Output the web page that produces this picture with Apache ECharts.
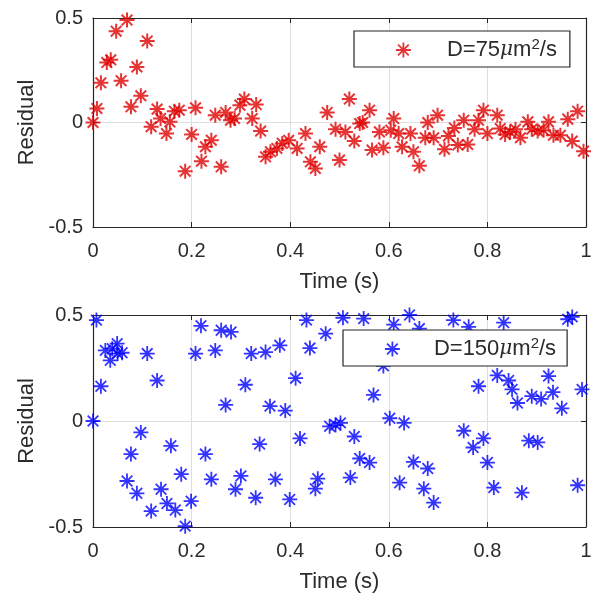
<!DOCTYPE html>
<html>
<head>
<meta charset="utf-8">
<script src="https://cdn.jsdelivr.net/npm/echarts@6/dist/echarts.min.js"></script>
<style>
html, body { margin: 0; padding: 0; background: #fff; }
#graph { width: 597px; height: 596px; }
</style>
</head>
<body>
<div id="graph"></div>
<script>
// residuals, D = 75 um^2/s (red)
var time1 = [0, 0.008, 0.016, 0.028, 0.036, 0.047, 0.057, 0.069, 0.077, 0.089, 0.097, 0.11, 0.118, 0.13, 0.137, 0.149, 0.156, 0.165, 0.175, 0.187,
  0.2, 0.208, 0.22, 0.228, 0.24, 0.248, 0.26, 0.269, 0.279, 0.287, 0.298, 0.307, 0.323, 0.331, 0.34, 0.35, 0.36, 0.373, 0.384, 0.397,
  0.414, 0.431, 0.441, 0.451, 0.46, 0.475, 0.492, 0.5, 0.512, 0.52, 0.53, 0.541, 0.547, 0.561, 0.566, 0.581, 0.589, 0.604, 0.61, 0.62,
  0.627, 0.644, 0.65, 0.662, 0.674, 0.679, 0.691, 0.699, 0.713, 0.721, 0.733, 0.74, 0.752, 0.76, 0.774, 0.782, 0.792, 0.8, 0.82, 0.826,
  0.836, 0.846, 0.857, 0.867, 0.882, 0.89, 0.902, 0.914, 0.924, 0.934, 0.948, 0.963, 0.972, 0.983, 0.995];
var resid1 = [0, 0.067, 0.19, 0.287, 0.3, 0.437, 0.2, 0.49, 0.075, 0.266, 0.128, 0.39, -0.02, 0.064, 0.019, -0.053, 0.003, 0.054, 0.059, -0.233,
  -0.057, 0.07, -0.185, -0.116, -0.085, 0.035, -0.212, 0.048, 0.011, 0.019, 0.083, 0.112, 0.019, 0.086, -0.041, -0.164, -0.14, -0.124, -0.1, -0.085,
  -0.124, -0.053, -0.188, -0.22, -0.116, 0.048, -0.032, -0.18, -0.045, 0.112, -0.089, -0.005, 0, 0.059, -0.132, -0.045, -0.121, -0.037, 0.019, -0.053,
  -0.116, -0.053, -0.14, -0.207, -0.073, 0, -0.073, 0.035, -0.128, -0.064, -0.026, -0.108, 0.011, -0.105, -0.032, 0.011, 0.059, -0.053, 0.035, -0.029,
  -0.057, -0.045, -0.032, -0.073, 0.003, -0.032, -0.041, -0.037, 0.003, -0.061, -0.061, 0.016, -0.089, 0.054, -0.137];

// residuals, D = 150 um^2/s (blue)
var time2 = [0, 0.007, 0.016, 0.025, 0.035, 0.039, 0.049, 0.05, 0.059, 0.069, 0.077, 0.089, 0.097, 0.11, 0.118, 0.13, 0.138, 0.15, 0.158, 0.167,
  0.179, 0.187, 0.199, 0.208, 0.219, 0.228, 0.24, 0.248, 0.26, 0.269, 0.28, 0.289, 0.3, 0.309, 0.321, 0.33, 0.338, 0.35, 0.359, 0.37,
  0.379, 0.39, 0.399, 0.411, 0.42, 0.433, 0.44, 0.451, 0.456, 0.472, 0.48, 0.492, 0.502, 0.507, 0.522, 0.53, 0.541, 0.549, 0.561, 0.569,
  0.589, 0.602, 0.61, 0.622, 0.631, 0.642, 0.65, 0.662, 0.671, 0.679, 0.691, 0.731, 0.752, 0.762, 0.771, 0.782, 0.792, 0.8, 0.813, 0.82,
  0.833, 0.843, 0.85, 0.861, 0.87, 0.884, 0.89, 0.902, 0.909, 0.924, 0.933, 0.951, 0.963, 0.972, 0.983, 0.992];
var resid2 = [0, 0.476, 0.164, 0.333, 0.286, 0.341, 0.365, 0.318, 0.322, -0.283, -0.156, -0.341, -0.054, 0.318, -0.425, 0.191, -0.322, -0.389, -0.117, -0.42,
  -0.251, -0.496, -0.378, 0.318, 0.449, -0.156, -0.275, 0.333, 0.428, 0.076, 0.42, -0.322, -0.259, 0.171, 0.318, -0.362, -0.109, 0.325, 0.07, -0.275,
  0.357, 0.049, -0.37, 0.202, -0.082, 0.476, 0.344, -0.319, -0.272, 0.412, -0.025, -0.019, -0.009, 0.487, -0.267, -0.073, -0.177, 0.483, -0.196, 0.123,
  0.26, 0.013, 0.455, -0.291, -0.009, 0.5, -0.193, 0.436, -0.319, -0.224, -0.385, 0.476, -0.046, 0.444, -0.125, 0.164, -0.082, -0.196, -0.314, 0.215,
  0.464, 0.191, 0.149, 0.085, -0.338, -0.093, 0.117, -0.101, 0.104, 0.212, 0.136, 0.06, 0.48, 0.491, -0.303, 0.149];

var xTicks = [0, 0.2, 0.4, 0.6, 0.8, 1];
var yTicks = [-0.5, 0, 0.5];

var chartDom = document.getElementById('graph');
var myChart = echarts.init(chartDom);
var option;

var FONT = 'Liberation Sans';
var TXT = '#2b2b2b';
var AX = '#262626';
var STAR = 'path://M0,-10L0,10M-10,0L10,0M-7.1,-7.1L7.1,7.1M-7.1,7.1L7.1,-7.1';

function pairs(xs, ys) {
  var out = [];
  for (var i = 0; i < xs.length; i++) out.push([xs[i], ys[i]]);
  return out;
}

// bottom / left axes carry labels + grid, top / right ones only the box and ticks
function xAxes(g) {
  return [{
    type: 'value', gridIndex: g, min: xTicks[0], max: xTicks[xTicks.length - 1], interval: 0.2,
    name: 'Time (s)', nameLocation: 'middle', nameGap: 44,
    nameTextStyle: { fontFamily: FONT, fontSize: 22, color: TXT },
    axisLine: { show: true, onZero: false, lineStyle: { color: AX, width: 1.2 } },
    axisTick: { show: true, inside: true, length: 5, lineStyle: { color: AX } },
    axisLabel: { fontFamily: FONT, fontSize: 20, color: TXT, margin: 14 },
    splitLine: { show: true, lineStyle: { color: '#dedede', width: 1 } }
  }, {
    type: 'value', gridIndex: g, position: 'top', min: 0, max: 1, interval: 0.2,
    axisLine: { show: true, onZero: false, lineStyle: { color: AX, width: 1.2 } },
    axisTick: { show: true, inside: true, length: 5, lineStyle: { color: AX } },
    axisLabel: { show: false }, splitLine: { show: false }
  }];
}
function yAxes(g) {
  return [{
    type: 'value', gridIndex: g, min: yTicks[0], max: yTicks[yTicks.length - 1], interval: 0.5,
    name: 'Residual', nameLocation: 'middle', nameGap: 47,
    nameTextStyle: { fontFamily: FONT, fontSize: 22, color: TXT },
    axisLine: { show: true, onZero: false, lineStyle: { color: AX, width: 1.2 } },
    axisTick: { show: true, inside: true, length: 5, lineStyle: { color: AX } },
    axisLabel: { fontFamily: FONT, fontSize: 20, color: TXT, margin: 10 },
    splitLine: { show: true, lineStyle: { color: '#dedede', width: 1 } }
  }, {
    type: 'value', gridIndex: g, position: 'right', min: -0.5, max: 0.5, interval: 0.5,
    axisLine: { show: true, onZero: false, lineStyle: { color: AX, width: 1.2 } },
    axisTick: { show: true, inside: true, length: 5, lineStyle: { color: AX } },
    axisLabel: { show: false }, splitLine: { show: false }
  }];
}

function legendText(num) {
  return '{t|D=' + num + '}{mu|\u03bc}{t|m}{sup|2}{t|/s}';
}
var legendRich = {
  t: { fontFamily: FONT, fontSize: 22, color: TXT, lineHeight: 26 },
  mu: { fontFamily: 'DejaVu Serif', fontStyle: 'italic', fontSize: 20, color: TXT, lineHeight: 26 },
  sup: { fontFamily: FONT, fontSize: 15, color: TXT, lineHeight: 14, verticalAlign: 'top' }
};

option = {
  animation: false,
  grid: [
    { left: 93, top: 18, width: 493, height: 209 },
    { left: 93, top: 315, width: 493, height: 212 }
  ],
  xAxis: xAxes(0).concat(xAxes(1)),
  yAxis: yAxes(0).concat(yAxes(1)),
  legend: [{
    data: ['D75'], left: 354, top: 31,
    backgroundColor: '#fff', borderColor: AX, borderWidth: 1.2,
    padding: [6, 13, 6, 41], itemWidth: 15, itemHeight: 15,
    itemStyle: { borderWidth: 1.8 },
    formatter: function () { return legendText(75); },
    textStyle: { rich: legendRich, padding: [0, 0, 0, 31] }
  }, {
    data: ['D150'], left: 343, top: 330,
    backgroundColor: '#fff', borderColor: AX, borderWidth: 1.2,
    padding: [6, 11, 6, 41], itemWidth: 15, itemHeight: 15,
    itemStyle: { borderWidth: 1.8 },
    formatter: function () { return legendText(150); },
    textStyle: { rich: legendRich, padding: [0, 0, 0, 29] }
  }],
  series: [{
    name: 'D75', type: 'scatter', xAxisIndex: 0, yAxisIndex: 0,
    symbol: STAR, symbolSize: 15,
    itemStyle: { color: '#e00000', borderColor: '#e00000', borderWidth: 2 },
    data: pairs(time1, resid1)
  }, {
    name: 'D150', type: 'scatter', xAxisIndex: 2, yAxisIndex: 2,
    symbol: STAR, symbolSize: 15,
    itemStyle: { color: '#0000ff', borderColor: '#0000ff', borderWidth: 1.8 },
    data: pairs(time2, resid2)
  }]
};

option && myChart.setOption(option);
</script>
</body>
</html>
